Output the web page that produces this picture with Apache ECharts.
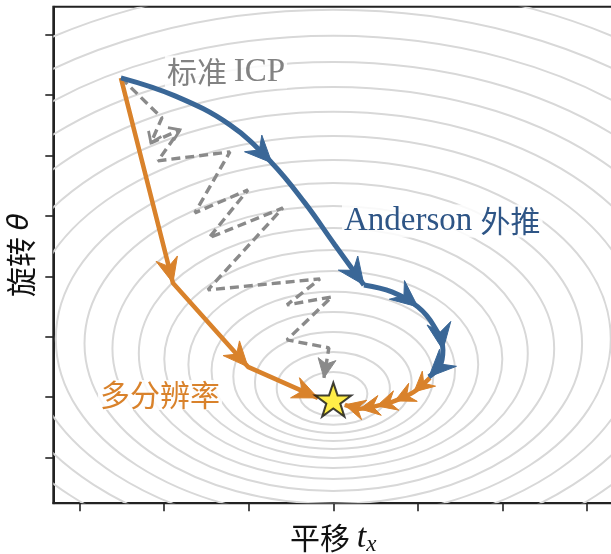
<!DOCTYPE html>
<html>
<head>
<meta charset="utf-8">
<script src="https://cdn.jsdelivr.net/npm/echarts@6/dist/echarts.min.js"></script>
<style>
  html, body { margin: 0; padding: 0; background: #ffffff; }
  #chart { width: 611px; height: 554px; }
</style>
</head>
<body>
<div id="chart"></div>
<script>
// Tick positions (labels are hidden, only tick marks are drawn)
const xTicks = [-3, -2, -1, 0, 1, 2, 3];
const yTicks = [-1, 0, 1, 2, 3, 4, 5, 6];

// Cost-function contour rings: centre (x = 0), vertical centre, semi-axes
const ringCy = [0.055, 0.146, 0.245, 0.344, 0.444, 0.543, 0.634, 0.725, 0.808, 0.891,
                0.965, 1.040, 1.106, 1.172, 1.230, 1.288, 1.338, 1.387, 1.429, 1.470];
const ringRx = [0.403, 0.669, 0.926, 1.182, 1.439, 1.713, 1.998, 2.299, 2.611, 2.941,
                3.280, 3.637, 4.004, 4.388, 4.783, 5.194, 5.616, 6.056, 6.505, 6.972];
const ringRy = [0.364, 0.604, 0.836, 1.068, 1.300, 1.548, 1.805, 2.078, 2.359, 2.657,
                2.964, 3.286, 3.618, 3.965, 4.321, 4.694, 5.075, 5.472, 5.877, 6.300];

// Standard ICP iterates (zig-zag)
const icpX = [-2.511, -2.026, -2.156, -1.813, -2.073, -1.222, -1.636, -1.009, -1.470, -0.596,
              -1.482, -0.158, -0.548, -0.017, -0.548, -0.052, -0.111];
const icpY = [5.287, 4.625, 4.211, 4.427, 3.913, 4.062, 3.052, 3.432, 2.637, 3.134,
              1.776, 1.958, 1.528, 1.661, 0.949, 0.817, 0.320];

// Anderson-accelerated iterates (two smooth legs)
const andersonX1 = [-2.511, -1.872, -1.222, -0.726, -0.336, 0.019, 0.362];
const andersonY1 = [5.287, 4.988, 4.508, 3.879, 3.217, 2.521, 1.859];
const andersonX2 = [0.362, 0.693, 1.000, 1.189, 1.296, 1.260, 1.130];
const andersonY2 = [1.859, 1.743, 1.495, 1.180, 0.783, 0.518, 0.336];

// Multi-resolution iterates (coarse steps) and the final fine steps
const multiresX = [-2.511, -1.896, -1.009, -0.182];
const multiresY = [5.287, 1.892, 0.502, -0.012];
const fineX = [1.142, 0.953, 0.728, 0.515, 0.314, 0.136];
const fineY = [0.321, 0.088, -0.061, -0.144, -0.193, -0.127];

// Optimum
const optimum = [0.0, -0.04];

// Which vertices carry an arrow head
const icpArrowIdx = [16];
const icpChevronIdx = [2, 3];
const anderson1ArrowIdx = [3, 6];
const anderson2ArrowIdx = [2, 4, 6];
const multiresArrowIdx = [1, 2, 3];
const fineArrowIdx = [1, 2, 3, 4, 5];

const BLUE = '#3A6797';
const ORANGE = '#D9822B';
const GRAY = '#8A8A8A';

const pts = (xs, ys) => xs.map((x, i) => [x, ys[i]]);

// arrow items: [tipX, tipY, fromX, fromY, style, toX, toY]
function arrowItems(xs, ys, idx, style, tangent) {
  return idx.map(i => {
    const k = (tangent && i + 1 < xs.length) ? i + 1 : i;
    return [xs[i], ys[i], xs[i - 1], ys[i - 1], style, xs[k], ys[k]];
  });
}

const arrowData = [].concat(
  arrowItems(icpX, icpY, icpArrowIdx, 0, false),
  arrowItems(icpX, icpY, icpChevronIdx, 3, false),
  arrowItems(andersonX1, andersonY1, anderson1ArrowIdx, 1, true),
  arrowItems(andersonX2, andersonY2, anderson2ArrowIdx, 1, true),
  arrowItems(multiresX, multiresY, multiresArrowIdx, 2, false),
  arrowItems(fineX, fineY, fineArrowIdx, 4, false)
);

const arrowStyles = [
  { color: GRAY, len: 19, half: 9, notch: 5 },
  { color: BLUE, len: 27, half: 12, notch: 9 },
  { color: ORANGE, len: 25, half: 11, notch: 8 },
  { color: GRAY, len: 10, half: 7, notch: 0 },
  { color: ORANGE, len: 20, half: 10, notch: 7 }
];

const chart = echarts.init(document.getElementById('chart'), null, { renderer: 'canvas' });

const option = {
  animation: false,
  backgroundColor: '#ffffff',
  grid: {
    left: 53.3, top: 6.7, width: 560, height: 496.5,
    outerBoundsMode: 'none', containLabel: false,
    show: true, borderColor: '#222', borderWidth: 2, backgroundColor: 'transparent'
  },
  xAxis: {
    type: 'value', min: -3.31, max: 3.31,
    axisLine: { show: true, onZero: false, lineStyle: { color: '#222', width: 2 } },
    axisTick: { show: true, inside: false, length: 8, customValues: xTicks, lineStyle: { color: '#222', width: 1.6 } },
    axisLabel: { show: false },
    splitLine: { show: false },
    name: '{a|平移 }{b|t}{c|x}',
    nameLocation: 'middle',
    nameGap: 16,
    nameTextStyle: {
      rich: {
        a: { fontFamily: 'Noto Sans CJK SC', fontSize: 30, color: '#111' },
        b: { fontFamily: 'Liberation Serif', fontStyle: 'italic', fontSize: 34, color: '#111' },
        c: { fontFamily: 'Liberation Serif', fontStyle: 'italic', fontSize: 23, color: '#111', padding: [14, 0, 0, 0] }
      }
    }
  },
  yAxis: {
    type: 'value', min: -1.755, max: 6.465,
    axisLine: { show: true, onZero: false, lineStyle: { color: '#222', width: 2 } },
    axisTick: { show: true, inside: false, length: 8, customValues: yTicks, lineStyle: { color: '#222', width: 1.6 } },
    axisLabel: { show: false },
    splitLine: { show: false },
    name: '{a|旋转 }{b|θ}',
    nameLocation: 'middle',
    nameGap: 18,
    nameTextStyle: {
      rich: {
        a: { fontFamily: 'Noto Sans CJK SC', fontSize: 30, color: '#111' },
        b: { fontFamily: 'DejaVu Sans', fontStyle: 'italic', fontSize: 28, color: '#111' }
      }
    }
  },
  graphic: [
    {
      type: 'text', x: 165, y: 72, z: 50,
      style: {
        text: '{a|标准 }{b|ICP}', align: 'left', verticalAlign: 'middle',
        backgroundColor: 'rgba(255,255,255,0.85)', padding: [0, 2],
        rich: {
          a: { fontFamily: 'Noto Sans CJK SC', fontSize: 30, fill: '#828282' },
          b: { fontFamily: 'Liberation Serif', fontSize: 33, fill: '#828282' }
        }
      }
    },
    {
      type: 'text', x: 342, y: 221, z: 50,
      style: {
        text: '{b|Anderson }{a|外推}', align: 'left', verticalAlign: 'middle',
        backgroundColor: 'rgba(255,255,255,0.85)', padding: [0, 2],
        rich: {
          a: { fontFamily: 'Noto Sans CJK SC', fontSize: 30, fill: '#2E5586' },
          b: { fontFamily: 'Liberation Serif', fontSize: 33, fill: '#2E5586' }
        }
      }
    },
    {
      type: 'text', x: 98, y: 395, z: 50,
      style: {
        text: '多分辨率', align: 'left', verticalAlign: 'middle',
        backgroundColor: 'rgba(255,255,255,0.85)', padding: [0, 2],
        fontFamily: 'Noto Sans CJK SC', fontSize: 30, fill: ORANGE
      }
    }
  ],
  series: [
    {
      name: 'contours',
      type: 'custom',
      silent: true,
      z: 1,
      data: ringCy.map((cy, i) => [0, cy, ringRx[i], ringRy[i]]),
      encode: { x: 0, y: 1 },
      renderItem: function (params, api) {
        const c = api.coord([api.value(0), api.value(1)]);
        const s = api.size([api.value(2), api.value(3)]);
        const cs = params.coordSys;
        return {
          type: 'ellipse',
          shape: { cx: c[0], cy: c[1], rx: s[0], ry: s[1] },
          style: { fill: 'none', stroke: '#D8D8D8', lineWidth: 2 },
          clipPath: { type: 'rect', shape: { x: cs.x, y: cs.y, width: cs.width, height: cs.height } }
        };
      }
    },
    {
      name: '标准 ICP', type: 'line', z: 3, symbol: 'none',
      data: pts(icpX, icpY),
      lineStyle: { color: GRAY, width: 3.4, type: [9, 5] }
    },
    {
      name: '多分辨率', type: 'line', z: 4, symbol: 'none',
      data: pts(multiresX, multiresY),
      lineStyle: { color: ORANGE, width: 4.5 }
    },
    {
      name: '多分辨率-fine', type: 'line', z: 4, symbol: 'none', smooth: 0.3,
      data: pts(fineX, fineY),
      lineStyle: { color: ORANGE, width: 4.5 }
    },
    {
      name: 'Anderson 外推', type: 'line', z: 5, symbol: 'none', smooth: 0.4,
      data: pts(andersonX1, andersonY1),
      lineStyle: { color: BLUE, width: 5 }
    },
    {
      name: 'Anderson 外推-2', type: 'line', z: 5, symbol: 'none', smooth: 0.4,
      data: pts(andersonX2, andersonY2),
      lineStyle: { color: BLUE, width: 5 }
    },
    {
      name: 'arrows', type: 'custom', z: 6, silent: true,
      data: arrowData,
      encode: { x: 0, y: 1 },
      renderItem: function (params, api) {
        const tip = api.coord([api.value(0), api.value(1)]);
        const from = api.coord([api.value(2), api.value(3)]);
        const to = api.coord([api.value(5), api.value(6)]);
        const st = arrowStyles[api.value(4)];
        // direction: previous vertex -> next vertex (or tip)
        let dx = to[0] - from[0], dy = to[1] - from[1];
        const n = Math.hypot(dx, dy) || 1;
        dx /= n; dy /= n;
        const px = -dy, py = dx;
        const bx = tip[0] - dx * st.len, by = tip[1] - dy * st.len;
        if (st.notch === 0) {
          return {
            type: 'polyline',
            shape: { points: [[bx + px * st.half, by + py * st.half], tip, [bx - px * st.half, by - py * st.half]] },
            style: { fill: 'none', stroke: st.color, lineWidth: 2.8 }
          };
        }
        const nx = tip[0] - dx * (st.len - st.notch), ny = tip[1] - dy * (st.len - st.notch);
        return {
          type: 'polygon',
          shape: { points: [tip, [bx + px * st.half, by + py * st.half], [nx, ny], [bx - px * st.half, by - py * st.half]] },
          style: { fill: st.color, stroke: st.color, lineWidth: 1, lineJoin: 'miter' }
        };
      }
    },
    {
      name: '最优解', type: 'scatter', z: 8,
      symbol: 'path://M50,0 L61.8,35.4 L99,35.4 L69,57.3 L80.3,92.7 L50,70.8 L19.7,92.7 L31,57.3 L1,35.4 L38.2,35.4 Z',
      symbolSize: [36, 34],
      data: [optimum],
      itemStyle: { color: '#FFE81A', borderColor: '#111', borderWidth: 2 }
    }
  ]
};

chart.setOption(option);
</script>
</body>
</html>
